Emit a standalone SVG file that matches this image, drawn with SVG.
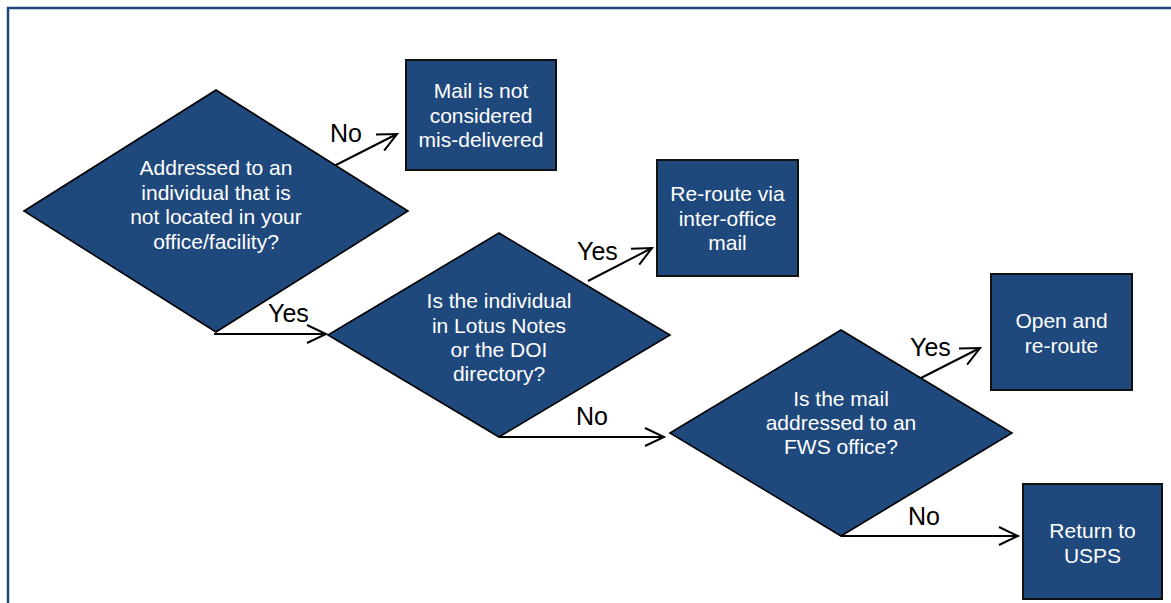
<svg xmlns="http://www.w3.org/2000/svg" width="1171" height="603" viewBox="0 0 1171 603">
<defs>
<style>
.shape{fill:#1F497D;stroke:#000;stroke-width:1.6}
.box{fill:#1F497D;stroke:#111;stroke-width:2}
.t{font-family:"Liberation Sans",Arial,sans-serif;font-size:21px;fill:#fff;text-anchor:middle}
.lbl{font-family:"Liberation Sans",Arial,sans-serif;font-size:25px;fill:#000}
.c{fill:none;stroke:#000;stroke-width:2;marker-end:url(#arr)}
</style>
<marker id="arr" markerUnits="userSpaceOnUse" markerWidth="24" markerHeight="22" refX="20" refY="10" orient="auto">
<path d="M1,1 L20,10 L1,19" fill="none" stroke="#000" stroke-width="2"/>
</marker>
</defs>
<rect width="1171" height="603" fill="#fff"/>
<g id="frame" stroke="#1F497D" stroke-width="2.5" fill="none">
<path d="M8,603 L8,8 L1171,8"/>
</g>
<g id="connectors">
<line class="c" x1="334" y1="166" x2="397" y2="134"/>
<line class="c" x1="214" y1="334" x2="326" y2="334"/>
<line class="c" x1="588" y1="281" x2="652" y2="248"/>
<line class="c" x1="499" y1="437" x2="664" y2="437"/>
<line class="c" x1="917" y1="380" x2="980" y2="348"/>
<line class="c" x1="841" y1="536" x2="1018" y2="536"/>
<text class="lbl" x="330" y="142">No</text>
<text class="lbl" x="268" y="322">Yes</text>
<text class="lbl" x="577" y="260">Yes</text>
<text class="lbl" x="576" y="425">No</text>
<text class="lbl" x="910" y="356">Yes</text>
<text class="lbl" x="908" y="525">No</text>
</g>
<g id="d1">
<polygon class="shape" points="24,211 216,90 408,211 216,332"/>
<text class="t" x="216" y="175">Addressed to an</text>
<text class="t" x="216" y="199.5">individual that is</text>
<text class="t" x="216" y="224">not located in your</text>
<text class="t" x="216" y="248.5">office/facility?</text>
</g>
<g id="b1">
<rect class="box" x="406" y="60" width="150" height="110"/>
<text class="t" x="481" y="98">Mail is not</text>
<text class="t" x="481" y="122.5">considered</text>
<text class="t" x="481" y="147">mis-delivered</text>
</g>
<g id="d2">
<polygon class="shape" points="328,335 499,233 670,335 499,437"/>
<text class="t" x="499" y="308">Is the individual</text>
<text class="t" x="499" y="332.5">in Lotus Notes</text>
<text class="t" x="499" y="357">or the DOI</text>
<text class="t" x="499" y="381">directory?</text>
</g>
<g id="b2">
<rect class="box" x="657" y="160" width="141" height="116"/>
<text class="t" x="727.5" y="201">Re-route via</text>
<text class="t" x="727.5" y="225.5">inter-office</text>
<text class="t" x="727.5" y="250">mail</text>
</g>
<g id="d3">
<polygon class="shape" points="670,433 841,330 1012,433 841,536"/>
<text class="t" x="841" y="406">Is the mail</text>
<text class="t" x="841" y="430">addressed to an</text>
<text class="t" x="841" y="454">FWS office?</text>
</g>
<g id="b3">
<rect class="box" x="991" y="274" width="141" height="116"/>
<text class="t" x="1061.5" y="328">Open and</text>
<text class="t" x="1061.5" y="352.5">re-route</text>
</g>
<g id="b4">
<rect class="box" x="1023" y="484" width="139" height="115"/>
<text class="t" x="1092.5" y="538">Return to</text>
<text class="t" x="1092.5" y="562.5">USPS</text>
</g>
</svg>
